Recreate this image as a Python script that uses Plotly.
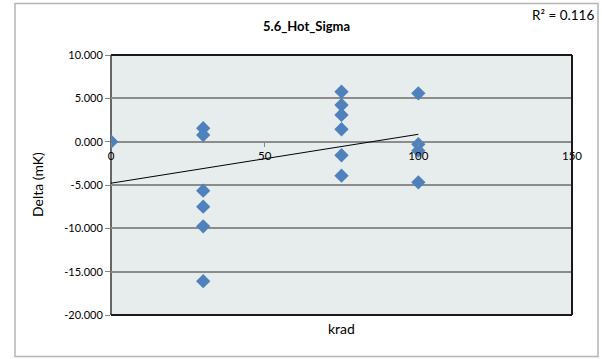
import numpy as np
import plotly.graph_objects as go

# ---- data ----
krad = [0, 0,
        30, 30, 30, 30, 30, 30,
        75, 75, 75, 75, 75, 75,
        100, 100, 100, 100]
delta_mk = [0.0, 0.0,
            1.55, 0.77, -5.65, -7.50, -9.77, -16.10,
            5.77, 4.23, 3.08, 1.43, -1.57, -3.92,
            5.58, -0.30, -1.04, -4.69]
title_text = "5.6_Hot_Sigma"
r2_text = "R² = 0.116"
x_title = "krad"
y_title = "Delta (mK)"
x_ticks = [0, 50, 100, 150]
y_ticks = [10, 5, 0, -5, -10, -15, -20]

# linear trendline computed from the data
slope, intercept = np.polyfit(krad, delta_mk, 1)
trend_x = [min(krad), max(krad)]
trend_y = [intercept + slope * v for v in trend_x]

FONT = "Lato, 'Open Sans', sans-serif"
W, H = 602, 359
L, R, T, B = 111, 30, 55, 44
pw, ph = W - L - R, H - T - B


def px(xpix):
    return (xpix - L) / pw


def py(ypix):
    return (H - B - ypix) / ph


fig = go.Figure()
fig.add_trace(go.Scatter(x=trend_x, y=trend_y, mode="lines",
                         line=dict(color="black", width=1), hoverinfo="skip",
                         showlegend=False))
fig.add_trace(go.Scatter(x=krad, y=delta_mk, mode="markers",
                         marker=dict(symbol="diamond", size=11, color="#4F81BD",
                                     line=dict(width=0)),
                         showlegend=False))

fig.update_layout(
    width=W, height=H, autosize=False,
    margin=dict(l=L, r=R, t=T, b=B, pad=0),
    paper_bgcolor="white",
    plot_bgcolor="#E7ECEC",
    font=dict(family=FONT, size=11, color="#000"),
    xaxis=dict(range=[0, 150], tickvals=x_ticks, ticktext=[str(v) for v in x_ticks],
               showgrid=False, zeroline=False, showline=False,
               ticks="outside", ticklen=4, tickcolor="#888", tickwidth=1,
               anchor="free", position=2/3, fixedrange=True,
               tickfont=dict(size=11.5, family=FONT)),
    yaxis=dict(range=[-20, 10], tickvals=y_ticks,
               ticktext=[f"{v:.3f}" for v in y_ticks],
               showgrid=True, gridcolor="#8C8C8C", gridwidth=1.5,
               zeroline=False, showline=False,
               ticks="outside", ticklen=5, tickcolor="#888", tickwidth=1,
               fixedrange=True,
               tickfont=dict(size=11, family=FONT)),
    shapes=[
        # plot frame
        dict(type="line", xref="x domain", yref="y domain", x0=0, x1=1, y0=1, y1=1,
             line=dict(color="#1a1a1a", width=2), layer="above"),
        dict(type="line", xref="x domain", yref="y domain", x0=1, x1=1, y0=0, y1=1,
             line=dict(color="#1a1a1a", width=2), layer="above"),
        dict(type="line", xref="x domain", yref="y domain", x0=0, x1=1, y0=0, y1=0,
             line=dict(color="#1a1a1a", width=2), layer="above"),
        dict(type="line", xref="x domain", yref="y domain", x0=0, x1=0, y0=0, y1=1,
             line=dict(color="#666666", width=2), layer="below"),
        # chart outer border
        dict(type="rect", xref="paper", yref="paper",
             x0=px(15), x1=px(598), y0=py(356.5), y1=py(3.5),
             line=dict(color="#B4B4B4", width=1.5), fillcolor="rgba(0,0,0,0)",
             layer="below"),
    ],
    annotations=[
        dict(text="<b>" + title_text + "</b>", xref="paper", yref="paper",
             x=px(306), y=py(26), xanchor="center", yanchor="middle",
             showarrow=False, font=dict(size=13, family=FONT)),
        dict(text=r2_text, xref="paper", yref="paper",
             x=px(596), y=py(15), xanchor="right", yanchor="middle",
             showarrow=False, font=dict(size=13.5, family=FONT)),
        dict(text=y_title, xref="paper", yref="paper",
             x=px(37), y=py(185), xanchor="center", yanchor="middle",
             textangle=-90, showarrow=False, font=dict(size=14, family=FONT)),
        dict(text=x_title, xref="paper", yref="paper",
             x=px(341.5), y=py(328), xanchor="center", yanchor="middle",
             showarrow=False, font=dict(size=14, family=FONT)),
    ],
)

fig.write_html("out.html", config={"displayModeBar": False},
               post_script="document.body.style.margin='0';document.body.style.overflow='hidden';")
